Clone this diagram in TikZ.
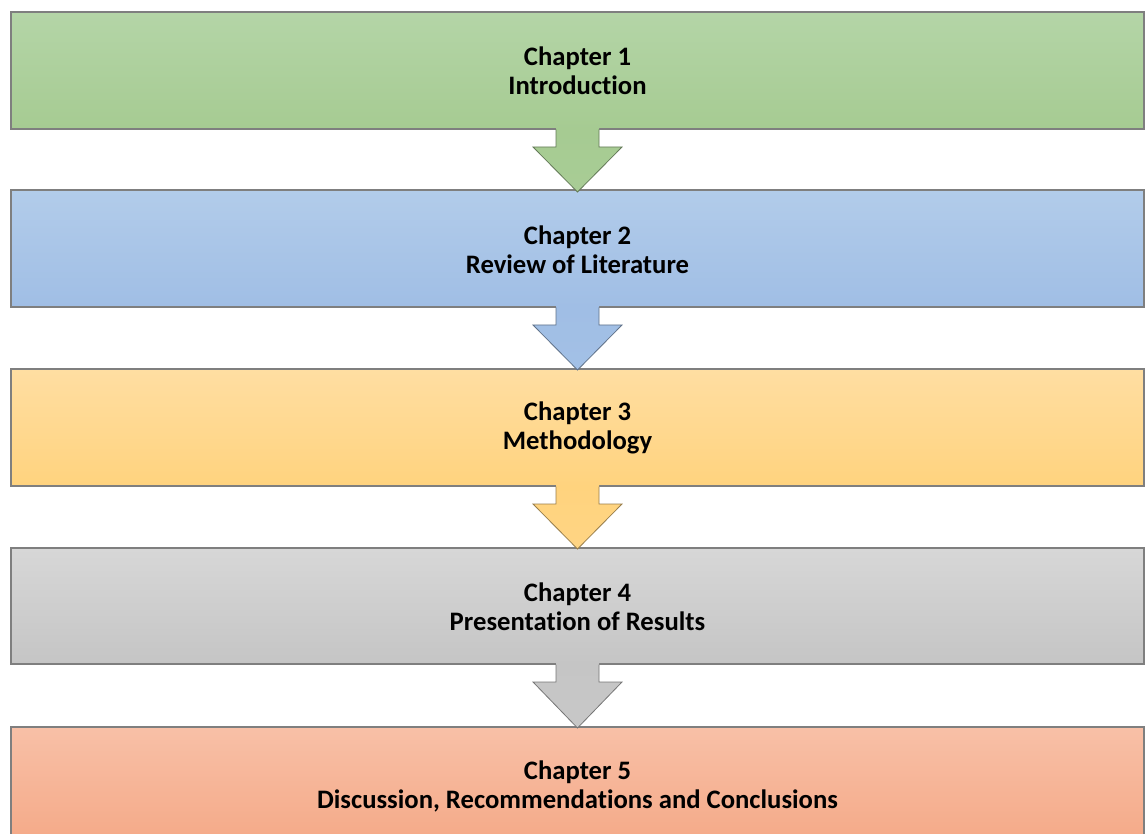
\documentclass[tikz,border=0pt]{standalone}
\usepackage{fontspec}
\setmainfont{Carlito}[Ligatures=NoCommon]
\begin{document}
\begin{tikzpicture}[x=0.75pt,y=-0.75pt,
  boxtxt/.style={align=center, font=\bfseries\fontsize{20}{21.75}\selectfont, text=black}]
\useasboundingbox (0,0) rectangle (1146,834);
\definecolor{gTop}{HTML}{B4D5A7}\definecolor{gBot}{HTML}{A6CB92}
\definecolor{bTop}{HTML}{B2CCEA}\definecolor{bBot}{HTML}{A0BEE5}
\definecolor{yTop}{HTML}{FFDEA2}\definecolor{yBot}{HTML}{FFD37E}
\definecolor{kTop}{HTML}{D7D7D7}\definecolor{kBot}{HTML}{C5C5C5}
\definecolor{rTop}{HTML}{F8C0A7}\definecolor{rBot}{HTML}{F4A683}
\definecolor{edge}{HTML}{7F7F7F}

% chapter boxes (shaded, thin grey frame)
\foreach \n/\top/\bot/\c in {1/12/129/g, 2/190/307/b, 3/369/486/y, 4/548/664/k, 5/727/860/r}{
  \shade[top color=\c Top, bottom color=\c Bot, draw=edge, line width=0.9pt]
    (11,\top) rectangle (1144,\bot);
}
% down arrows between boxes: filled body, outline open at the top
\foreach \top/\tip/\c in {129/192/g, 307/370/b, 486/549/y, 664/728/k}{
  \shade[top color=\c Bot, bottom color=\c Bot!85!\c Top]
    (556,\top-1) -- (556,\top+18) -- (533,\top+18) -- (577.5,\tip)
    -- (622,\top+18) -- (599,\top+18) -- (599,\top-1) -- cycle;
  \draw[\c Bot!60!black, line width=0.6pt, line join=miter]
    (556,\top+0.5) -- (556,\top+18) -- (533,\top+18) -- (577.5,\tip)
    -- (622,\top+18) -- (599,\top+18) -- (599,\top+0.5);
}
\node[boxtxt] (c1) at (577.5,70.5) {Chapter 1\\Introduction};
\node[boxtxt] (c2) at (577.5,249.5) {Chapter 2\\Review of Literature};
\node[boxtxt] (c3) at (577.5,428) {Chapter 3\\Methodology};
\node[boxtxt] (c4) at (577.5,607) {Chapter 4\\Presentation of Results};
\node[boxtxt] (c5) at (577.5,786) {Chapter 5\\Discussion, Recommendations and Conclusions};
\end{tikzpicture}
\end{document}
